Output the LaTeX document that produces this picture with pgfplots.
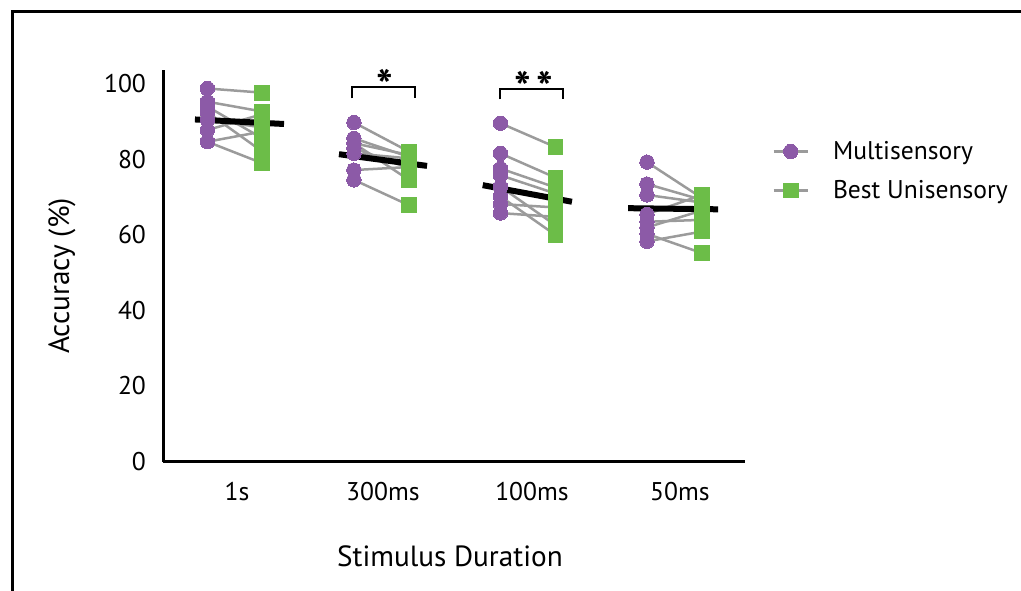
\documentclass[border=0pt]{standalone}
\usepackage{pgfplots}
\pgfplotsset{compat=1.18}
\usepackage{pgfplotstable}
\usepackage{fontspec}
\setmainfont{PT Sans}

\definecolor{multi}{RGB}{140,90,167}
\definecolor{uni}{RGB}{108,189,72}
\definecolor{pair}{RGB}{155,155,155}

% Accuracy (%) per participant: multisensory vs. best unisensory
\pgfplotstableread{
multi uni
98.8 97.7
95.3 92.7
94.0 85.6
92.5 82.1
90.5 88.5
87.8 92.0
84.7 87.4
84.7 79.0
}\durOne
\pgfplotstableread{
multi uni
89.8 82.1
85.6 80.7
84.3 81.2
84.3 74.6
83.0 77.7
81.6 80.3
77.2 78.0
74.6 67.9
}\durThree
\pgfplotstableread{
multi uni
89.6 83.3
81.6 75.2
77.6 72.6
75.8 71.0
72.8 62.6
70.2 60.0
68.2 67.3
65.8 64.8
}\durHundred
\pgfplotstableread{
multi uni
79.3 69.8
73.5 69.3
70.6 68.6
65.5 70.6
63.5 64.0
62.0 66.5
60.3 55.2
58.3 60.9
}\durFifty

\pgfplotsset{
  multimark/.style={forget plot, only marks, color=multi, mark=*, mark size=3.6pt,
    mark options={draw=multi, fill=multi, line width=0pt}},
  unimark/.style={forget plot, only marks, color=uni, mark=square*, mark size=3.7pt,
    mark options={draw=uni, fill=uni, line width=0pt}},
  pairline/.style={forget plot, pair, line width=1.25pt, -,
    quiver={u=0.375, v=\thisrow{uni}-\thisrow{multi}}},
  meanline/.style={forget plot, black, line width=3pt},
}
\tikzset{sigstar/.style={font=\fontsize{22}{24}\selectfont\bfseries}}

\begin{document}
\begin{tikzpicture}
\useasboundingbox (0,0) rectangle (510.5pt,295pt);
\draw[line width=1.5pt] (6.25pt,-2pt) -- (6.25pt,289.25pt) -- (514pt,289.25pt);
\begin{axis}[
  at={(81.5pt,64.25pt)}, anchor=south west,
  scale only axis, width=291pt, height=195.75pt,
  xmin=-0.498, xmax=3.474, ymin=0, ymax=103.7,
  axis x line=bottom, axis y line=left,
  axis line style={line width=1.5pt, -},
  xtick={0.007,1.003,2.02,3.03},
  xticklabels={1s,300ms,100ms,50ms},
  ytick={0,20,...,100},
  major tick length=0pt,
  /pgf/number format/assume math mode=true,
  tick label style={font=\fontsize{12.8}{14}\selectfont},
  xticklabel style={yshift=-7pt},
  yticklabel style={xshift=-5pt},
  xlabel={Stimulus Duration},
  ylabel={Accuracy (\%)},
  label style={font=\fontsize{14.6}{16}\selectfont},
  xlabel style={at={(axis description cs:0.493,-0.241)}, anchor=center},
  ylabel style={at={(axis description cs:-0.1735,0.474)}, anchor=center},
  clip=false,
  legend style={at={(axis description cs:1.036,0.742)}, anchor=west,
    draw=none, fill=none, font=\fontsize{12.8}{14}\selectfont,
    row sep=5pt,
    /tikz/every odd column/.append style={column sep=10pt}},
  legend cell align=left,
]
% participant markers
\addplot[multimark] table[x expr=-0.195, y=multi] {\durOne};
\addplot[unimark]   table[x expr=0.18,   y=uni]   {\durOne};
\addplot[multimark] table[x expr=0.805,  y=multi] {\durThree};
\addplot[unimark]   table[x expr=1.18,   y=uni]   {\durThree};
\addplot[multimark] table[x expr=1.805,  y=multi] {\durHundred};
\addplot[unimark]   table[x expr=2.18,   y=uni]   {\durHundred};
\addplot[multimark] table[x expr=2.805,  y=multi] {\durFifty};
\addplot[unimark]   table[x expr=3.18,   y=uni]   {\durFifty};
% lines joining each participant's two scores
\addplot[pairline] table[x expr=-0.195, y=multi] {\durOne};
\addplot[pairline] table[x expr=0.805,  y=multi] {\durThree};
\addplot[pairline] table[x expr=1.805,  y=multi] {\durHundred};
\addplot[pairline] table[x expr=2.805,  y=multi] {\durFifty};
% group means
\addplot[meanline] coordinates {(-0.28,90.6) (0.328,89.4)};
\addplot[meanline] coordinates {(0.703,81.4) (1.304,78.3)};
\addplot[meanline] coordinates {(1.684,73.2) (2.293,68.8)};
\addplot[meanline] coordinates {(2.676,67.1) (3.29,66.8)};
% significance brackets
\draw[line width=1pt] (axis cs:0.792,96.2) |- (axis cs:1.222,99.3) -- (axis cs:1.222,96.2);
\draw[line width=1pt] (axis cs:1.802,95.9) |- (axis cs:2.230,98.6) -- (axis cs:2.230,95.9);
\node[sigstar] at (axis cs:1.017,99.6) {*};
\node[sigstar] at (axis cs:1.955,99.2) {*};
\node[sigstar] at (axis cs:2.105,99.2) {*};
% legend
\addlegendimage{pair, line width=1.25pt, mark=*, mark size=3.6pt, mark options={draw=multi, fill=multi, line width=0pt}}
\addlegendentry{Multisensory}
\addlegendimage{pair, line width=1.25pt, mark=square*, mark size=3.7pt, mark options={draw=uni, fill=uni, line width=0pt}}
\addlegendentry{Best Unisensory}
\end{axis}
\end{tikzpicture}
\end{document}
